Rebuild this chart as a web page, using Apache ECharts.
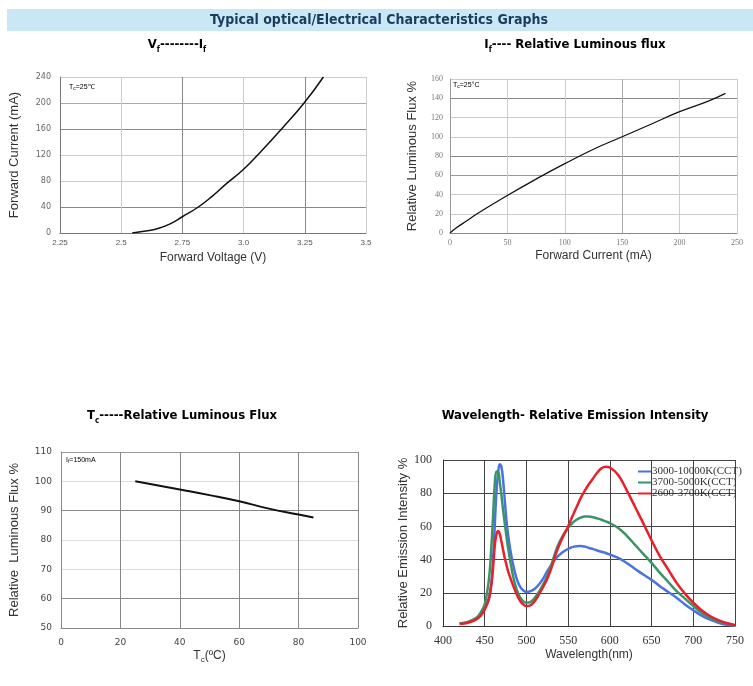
<!DOCTYPE html>
<html>
<head>
<meta charset="utf-8">
<script src="https://cdn.jsdelivr.net/npm/echarts@6/dist/echarts.min.js"></script>
<style>
html,body{margin:0;padding:0;background:#fff}
#main{width:753px;height:686px}
</style>
</head>
<body>
<div id="main"></div>
<script>
const NAVY='#1b3b5f'
const HEAD_FONT='"Liberation Sans Narrow","DejaVu Sans Condensed","Liberation Sans",sans-serif'
const SANS='"Liberation Sans","Open Sans",sans-serif'
const SERIF='"Liberation Serif","DejaVu Serif",serif'

// Vf - If
let vf=[2.545,2.6,2.65,2.7,2.75,2.815,2.87,2.93,3.0,3.07,3.155,3.247,3.326]
let ifwd=[0,3,7,14,25,40,56,76,98,125,160,200,240]
let vfTicks=['2.25','2.5','2.75','3.0','3.25','3.5']

// If - relative luminous flux
let cur=[0,5,15,25,50,75,100,125,150,175,200,225,240]
let flux=[0,5,13,21,39,56,72,87,100,113,126,137,145]

// Tc - relative luminous flux
let tc=[25,40,50,60,70,80,85]
let tcFlux=[100,97.2,95.3,93.2,90.7,88.7,87.7]

// wavelength - relative emission intensity
let wl=[420,430,440,445,450,455,458,460,462,464,466,468,470,472,474,476,478,480,484,488,492,496,500,505,510,515,520,525,530,535,540,545,550,555,560,565,570,575,580,585,590,595,600,610,620,630,640,650,660,670,680,690,700,710,720,730,740,750]
let cool=[1.5,2.5,4.5,7,11,17,26,40,60,80,92,97.5,96,88,76,64,55,48,37,29,24,21.5,20.5,21,22.5,25,28.5,33,37,40.5,43,45,46.5,47.5,48,48.2,47.8,47,46.3,45.5,44.7,44,43,41,38,34.5,31,27.8,24,20.5,17,13,9.5,6.3,3.8,2,0.8,0.2]
let neutral=[1.5,2.5,5,8,13,28,48,66,85,93,93,87,79,70,62,54,47,41,30,22.5,17.5,15,14,14.5,17,20.5,25,30,37,45,51,55.5,59,62,64,65.3,66,66,65.5,64.8,64,63,62,59,54.5,49,43.5,38,32,26.5,21,16.5,12,8,5,3,1.5,0.5]
let warm=[1.2,2,4,6,10,16,25,35,48,55,57.2,55.5,51,46,41,37,33,30,24.5,19.5,15.5,13,12,12.5,15,19,23.5,28.5,35,43,49.5,55,60,66,71.5,77,81.5,85.5,89,92.5,95,96,95.5,91,82,72,62,51.6,42,34,26,19.5,14,9.5,6,3.5,1.8,0.5]
let cctNames=['3000-10000K(CCT)','3700-5000K(CCT)','2600-3700K(CCT)']
let cctColors=['#4a72e0','#3a9467','#e8202c']

function pairs(xs,ys){ return xs.map((x,i)=>[x,ys[i]]) }

const headRich={
  m:{fontFamily:HEAD_FONT,fontWeight:'bold',fontSize:13,color:NAVY,lineHeight:15},
  s:{fontFamily:HEAD_FONT,fontWeight:'bold',fontSize:8,color:NAVY,lineHeight:8,padding:[10,0,0,0]}
}
const noteRich={
  a:{fontFamily:SANS,fontSize:7,color:'#222',lineHeight:8},
  s:{fontFamily:SANS,fontSize:5,color:'#222',lineHeight:5,padding:[4,0,0,0]}
}
function head(text,x,y){
  return {type:'text',x:x,y:y,style:{text:text,rich:headRich,align:'center',verticalAlign:'middle'}}
}
function note(text,x,y){
  return {type:'text',x:x,y:y,style:{text:text,rich:noteRich,align:'left',verticalAlign:'top'}}
}

function axisName(size){
  return {fontFamily:SANS,fontSize:size||12,color:'#333'}
}

let myChart=echarts.init(document.getElementById('main'))
let option={
  backgroundColor:'#fff',
  animation:false,
  graphic:[
    {type:'rect',shape:{x:7,y:9,width:746,height:22},style:{fill:'#cae7f6'}},
    {type:'text',x:379,y:20,style:{text:'Typical optical/Electrical Characteristics Graphs',fontFamily:HEAD_FONT,fontWeight:'bold',fontSize:14,fill:NAVY,align:'center',verticalAlign:'middle'}},
    head('{m|V}{s|f}{m|--------I}{s|f}',177,45),
    head('{m|I}{s|f}{m|---- Relative Luminous flux}',575,45),
    head('{m|T}{s|c}{m|-----Relative Luminous Flux}',182,416),
    head('{m|Wavelength- Relative Emission Intensity}',575,416),
    note('{a|T}{s|c}{a|=25℃}',69,83),
    note('{a|T}{s|c}{a|=25°C}',453,81),
    note('{a|I}{s|f}{a|=150mA}',66,456)
  ],
  legend:{
    data:cctNames,
    left:633,top:461,orient:'vertical',
    icon:'rect',itemWidth:13,itemHeight:2,itemGap:0,
    textStyle:{fontFamily:SERIF,fontSize:11,color:'#333',lineHeight:9,padding:[0,0,0,-4]}
  },
  grid:[
    {left:60,top:77,width:306,height:156},
    {left:450,top:79,width:287,height:154},
    {left:61,top:452,width:297,height:176},
    {left:443,top:460,width:292,height:166}
  ],
  xAxis:[
    {
      gridIndex:0,type:'value',min:2.25,max:3.5,interval:0.25,
      name:'Forward Voltage (V)',nameLocation:'middle',nameGap:19,nameTextStyle:axisName(12),
      axisLine:{lineStyle:{color:'#777'}},axisTick:{show:false},
      axisLabel:{fontFamily:SANS,fontSize:8,color:'#555',margin:6,formatter:(v,i)=>vfTicks[i]},
      splitLine:{lineStyle:{color:['#777','#ccc','#888','#ccc','#888','#ccc']}}
    },
    {
      gridIndex:1,type:'value',min:0,max:250,interval:50,
      name:'Forward Current (mA)',nameLocation:'middle',nameGap:17,nameTextStyle:axisName(12),
      axisLine:{lineStyle:{color:'#888'}},axisTick:{show:false},
      axisLabel:{fontFamily:SERIF,fontSize:8,color:'#777',margin:6},
      splitLine:{lineStyle:{color:['#888','#ccc','#ccc','#aaa','#ccc','#ccc']}}
    },
    {
      gridIndex:2,type:'value',min:0,max:100,interval:20,
      name:'{m|T}{s|c}{m|(ºC)}',nameLocation:'middle',nameGap:20,
      nameTextStyle:{rich:{m:{fontFamily:SANS,fontSize:12,color:'#333',lineHeight:14},s:{fontFamily:SANS,fontSize:8,color:'#333',lineHeight:8,padding:[8,0,0,0]}}},
      axisLine:{lineStyle:{color:'#888'}},axisTick:{show:false},
      axisLabel:{fontFamily:'"DejaVu Sans",sans-serif',fontSize:9,color:'#444',margin:10},
      splitLine:{lineStyle:{color:'#888'}}
    },
    {
      gridIndex:3,type:'value',min:400,max:750,interval:50,
      name:'Wavelength(nm)',nameLocation:'middle',nameGap:23,nameTextStyle:axisName(12),
      axisLine:{lineStyle:{color:'#333'}},axisTick:{show:false},
      axisLabel:{fontFamily:SERIF,fontSize:12,color:'#333',margin:9},
      splitLine:{lineStyle:{color:'#444'}}
    }
  ],
  yAxis:[
    {
      gridIndex:0,type:'value',min:0,max:240,interval:40,
      name:'Forward Current (mA)',nameLocation:'middle',nameGap:39,nameTextStyle:axisName(13),
      axisLine:{show:true,lineStyle:{color:'#777'}},axisTick:{show:false},
      axisLabel:{fontFamily:'"DejaVu Sans",sans-serif',fontSize:8,color:'#666',margin:9},
      splitLine:{lineStyle:{color:['#777','#888','#ccc','#ccc','#888','#aaa','#ccc']}}
    },
    {
      gridIndex:1,type:'value',min:0,max:160,interval:20,
      name:'Relative Luminous Flux %',nameLocation:'middle',nameGap:31,nameTextStyle:axisName(13),
      axisLine:{show:true,lineStyle:{color:'#999'}},axisTick:{show:false},
      axisLabel:{fontFamily:SERIF,fontSize:8,color:'#777',margin:7},
      splitLine:{lineStyle:{color:['#888','#ccc','#ccc','#999','#888','#ccc','#ccc','#888','#ccc']}}
    },
    {
      gridIndex:2,type:'value',min:50,max:110,interval:10,
      name:'Relative  Luminous Flux %',nameLocation:'middle',nameGap:40,nameTextStyle:axisName(13),
      axisLine:{show:true,lineStyle:{color:'#888'}},axisTick:{show:false},
      axisLabel:{fontFamily:'"DejaVu Sans",sans-serif',fontSize:9,color:'#444',margin:9},
      splitLine:{lineStyle:{color:['#888','#888','#ddd','#ddd','#888','#ddd','#999']}}
    },
    {
      gridIndex:3,type:'value',min:0,max:100,interval:20,
      name:'Relative Emission Intensity %',nameLocation:'middle',nameGap:33,nameTextStyle:axisName(13),
      axisLine:{show:true,lineStyle:{color:'#333'}},axisTick:{show:false},
      axisLabel:{fontFamily:SERIF,fontSize:12,color:'#333',margin:11},
      splitLine:{lineStyle:{color:'#444'}}
    }
  ],
  series:[
    {type:'line',xAxisIndex:0,yAxisIndex:0,data:pairs(vf,ifwd),smooth:true,showSymbol:false,lineStyle:{color:'#111',width:1.5}},
    {type:'line',xAxisIndex:1,yAxisIndex:1,data:pairs(cur,flux),smooth:true,showSymbol:false,lineStyle:{color:'#111',width:1.3}},
    {type:'line',xAxisIndex:2,yAxisIndex:2,data:pairs(tc,tcFlux),smooth:true,showSymbol:false,lineStyle:{color:'#111',width:2}},
    {name:cctNames[0],type:'line',xAxisIndex:3,yAxisIndex:3,data:pairs(wl,cool),smooth:0.4,showSymbol:false,itemStyle:{color:cctColors[0]},lineStyle:{color:cctColors[0],width:2.5}},
    {name:cctNames[1],type:'line',xAxisIndex:3,yAxisIndex:3,data:pairs(wl,neutral),smooth:0.4,showSymbol:false,itemStyle:{color:cctColors[1]},lineStyle:{color:cctColors[1],width:2.5}},
    {name:cctNames[2],type:'line',xAxisIndex:3,yAxisIndex:3,data:pairs(wl,warm),smooth:0.4,showSymbol:false,itemStyle:{color:cctColors[2]},lineStyle:{color:cctColors[2],width:2.5}}
  ]
}
myChart.setOption(option)
</script>
</body>
</html>
